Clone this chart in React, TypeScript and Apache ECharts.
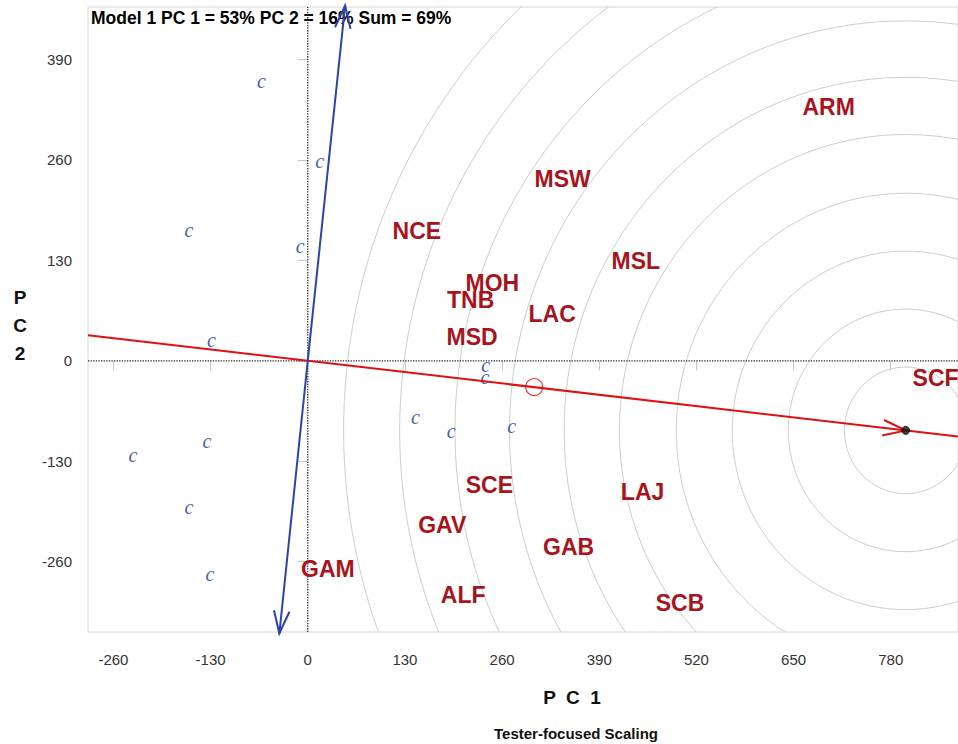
import React, { useEffect, useRef } from "react";
import * as echarts from "echarts";

// Axis extents and tick labels
const X_RANGE = [-294, 870];
const Y_RANGE = [-351, 458];
const X_TICKS = [-260, -130, 0, 130, 260, 390, 520, 650, 780];
const Y_TICKS = [-260, -130, 0, 130, 260, 390];

// Environments (testers)
const envNames = ["ARM", "MSW", "NCE", "MOH", "MSL", "TNB", "LAC", "MSD", "SCF", "SCE", "LAJ", "GAV", "GAB", "GAM", "ALF", "SCB"];
const envPC1 = [697, 341, 146, 247, 439, 218, 327, 220, 840, 243, 448, 180, 349, 27, 208, 498];
const envPC2 = [328, 236, 168, 101, 129, 79, 60, 31, -22, -161, -170, -212, -241, -269, -303, -313];

// Genotypes (entries)
const genoPC1 = [-62, 16, -159, -10, -129, 238, 237, 144, 192, 273, -135, -234, -159, -131];
const genoPC2 = [358, 255, 165, 145, 23, -9, -25, -77, -95, -88, -108, -126, -193, -280];

// Average-environment axis and ideal tester
const IDEAL = [800, -90];
const AEA_MEAN = [303, -34];
const ATC_TOP = [50, 460];
const ATC_BOTTOM = [-38, -353];
const RING_RADII = [82, 157, 232, 307, 383, 457, 530, 603, 677, 752];

const RED = "#e01010";
const BLUE = "#2a44a8";
const ENV_COLOR = "#a8141c";
const SANS = "'Liberation Sans', Arial, sans-serif";

function arrowHead(color: string) {
  return (params: any, api: any) => {
    const tail = api.coord([api.value(0), api.value(1)]);
    const tip = api.coord([api.value(2), api.value(3)]);
    const ang = Math.atan2(tip[1] - tail[1], tip[0] - tail[0]);
    const L = 24;
    const A = 0.33;
    return {
      type: "polyline",
      shape: {
        points: [
          [tip[0] - L * Math.cos(ang - A), tip[1] - L * Math.sin(ang - A)],
          tip,
          [tip[0] - L * Math.cos(ang + A), tip[1] - L * Math.sin(ang + A)],
        ],
      },
      style: { stroke: color, lineWidth: 2, fill: "none" },
    };
  };
}

export default function App() {
  const ref = useRef<HTMLDivElement>(null);

  useEffect(() => {
    if (!ref.current) return;
    const chart = echarts.init(ref.current, undefined, { renderer: "svg" });
    const slope = IDEAL[1] / IDEAL[0];
    const aeaLine = [
      [X_RANGE[0], X_RANGE[0] * slope],
      [X_RANGE[1], X_RANGE[1] * slope],
    ];

    chart.setOption({
      animation: false,
      backgroundColor: "#ffffff",
      grid: {
        left: 88,
        top: 7,
        right: -2,
        bottom: 112,
        show: true,
        borderColor: "#d6d6d6",
        borderWidth: 1,
      },
      xAxis: {
        type: "value",
        min: X_RANGE[0],
        max: X_RANGE[1],
        axisLine: { show: false },
        splitLine: { show: false },
        axisTick: { show: true, length: 10, lineStyle: { color: "#c8c8c8" }, customValues: X_TICKS },
        axisLabel: { color: "#333", fontSize: 15, fontFamily: SANS, margin: 20, customValues: X_TICKS },
      },
      yAxis: {
        type: "value",
        min: Y_RANGE[0],
        max: Y_RANGE[1],
        axisLine: { show: false },
        splitLine: { show: false },
        axisTick: { show: true, length: 10, lineStyle: { color: "#c8c8c8" }, customValues: Y_TICKS },
        axisLabel: { color: "#333", fontSize: 15, fontFamily: SANS, margin: 16, customValues: Y_TICKS },
      },
      graphic: [
        {
          type: "text",
          left: 91,
          top: 9,
          z: 0,
          style: {
            text: "Model 1 PC 1 = 53% PC 2 = 16% Sum = 69%",
            font: `bold 17.5px ${SANS}`,
            fill: "#000",
          },
        },
        {
          type: "text",
          x: 572,
          y: 697,
          style: {
            text: "P  C  1",
            font: `bold 19px ${SANS}`,
            fill: "#111",
            align: "center",
            verticalAlign: "middle",
          },
        },
        {
          type: "text",
          x: 576,
          y: 733,
          style: {
            text: "Tester-focused Scaling",
            font: `bold 15px ${SANS}`,
            fill: "#111",
            align: "center",
            verticalAlign: "middle",
          },
        },
        {
          type: "text",
          x: 20,
          y: 325,
          style: {
            text: "P\nC\n2",
            font: `bold 19px ${SANS}`,
            lineHeight: 28,
            fill: "#111",
            align: "center",
            verticalAlign: "middle",
          },
        },
      ],
      series: [
        {
          type: "custom",
          name: "rings",
          z: 1,
          silent: true,
          data: RING_RADII.map((r) => [IDEAL[0], IDEAL[1], r]),
          renderItem: (params: any, api: any) => {
            const c = api.coord([api.value(0), api.value(1)]);
            const s = api.size([api.value(2), api.value(2)]);
            const cs = params.coordSys;
            return {
              type: "ellipse",
              shape: { cx: c[0], cy: c[1], rx: s[0], ry: s[1] },
              style: { fill: "none", stroke: "#cdcdcd", lineWidth: 1 },
              clipPath: { type: "rect", shape: { x: cs.x, y: cs.y, width: cs.width, height: cs.height } },
            };
          },
        },
        {
          type: "line",
          name: "pc1zero",
          z: 2,
          symbol: "none",
          data: [
            [X_RANGE[0], 0],
            [X_RANGE[1], 0],
          ],
          lineStyle: { color: "#222", width: 1.3, type: "dotted" },
        },
        {
          type: "line",
          name: "pc2zero",
          z: 2,
          symbol: "none",
          data: [
            [0, Y_RANGE[0]],
            [0, Y_RANGE[1]],
          ],
          lineStyle: { color: "#222", width: 1.3, type: "dotted" },
        },
        {
          type: "custom",
          name: "genotypes",
          z: 3,
          data: genoPC1.map((x, i) => [x, genoPC2[i]]),
          renderItem: (params: any, api: any) => {
            const p = api.coord([api.value(0), api.value(1)]);
            return {
              type: "text",
              x: p[0],
              y: p[1] - 3,
              style: {
                text: "c",
                font: `italic 20px 'Liberation Serif', 'Times New Roman', serif`,
                fill: "#4a5cb4",
                align: "center",
                verticalAlign: "middle",
              },
            };
          },
        },
        {
          type: "custom",
          name: "environments",
          z: 3,
          data: envPC1.map((x, i) => [x, envPC2[i]]),
          renderItem: (params: any, api: any) => {
            const p = api.coord([api.value(0), api.value(1)]);
            return {
              type: "text",
              x: p[0],
              y: p[1],
              style: {
                text: envNames[params.dataIndex],
                font: `bold 23px ${SANS}`,
                fill: ENV_COLOR,
                align: "center",
                verticalAlign: "middle",
              },
            };
          },
        },
        {
          type: "line",
          name: "AEA",
          z: 4,
          symbol: "none",
          data: aeaLine,
          lineStyle: { color: RED, width: 2 },
        },
        {
          type: "line",
          name: "ATC",
          z: 4,
          symbol: "none",
          clip: false,
          data: [ATC_BOTTOM, [0, 0], ATC_TOP],
          lineStyle: { color: BLUE, width: 2 },
        },
        {
          type: "custom",
          name: "aeaArrow",
          z: 5,
          clip: false,
          data: [[0, 0, IDEAL[0], IDEAL[1]]],
          renderItem: arrowHead(RED),
        },
        {
          type: "custom",
          name: "atcArrows",
          z: 5,
          clip: false,
          data: [
            [0, 0, ATC_TOP[0], ATC_TOP[1]],
            [0, 0, ATC_BOTTOM[0], ATC_BOTTOM[1]],
          ],
          renderItem: arrowHead(BLUE),
        },
        {
          type: "scatter",
          name: "mean",
          z: 6,
          symbol: "circle",
          symbolSize: 17,
          data: [AEA_MEAN],
          itemStyle: { color: "rgba(0,0,0,0)", borderColor: RED, borderWidth: 1.2 },
        },
        {
          type: "scatter",
          name: "ideal",
          z: 6,
          symbol: "circle",
          symbolSize: 8,
          data: [IDEAL],
          itemStyle: { color: "#111", borderColor: "#000", borderWidth: 1 },
        },
      ],
    });

    return () => chart.dispose();
  }, []);

  return (
    <div
      ref={ref}
      style={{ position: "fixed", left: 0, top: 0, width: 958, height: 744, background: "#fff" }}
    />
  );
}
